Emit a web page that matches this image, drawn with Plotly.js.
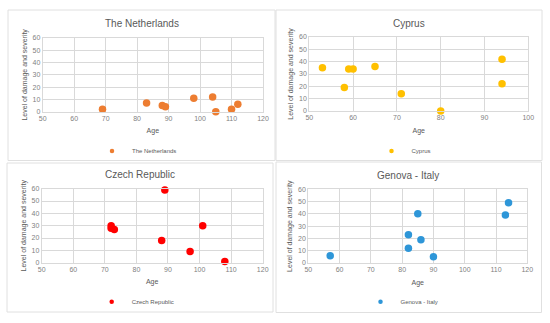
<!DOCTYPE html>
<html>
<head>
<meta charset="utf-8">
<script src="https://cdn.plot.ly/plotly-3.0.1.min.js"></script>
<style>html,body{margin:0;padding:0;background:#fff;}#chart{width:550px;height:323px;}</style>
</head>
<body>
<div id="chart"></div>
<script>
// Data
const nlAge = [69, 83, 88, 89, 98, 104, 105, 110, 112];
const nlDamage = [2, 7, 5, 4, 11, 12, 0, 2, 6];

const cyAge = [53, 58, 59, 60, 65, 71, 80, 94, 94];
const cyDamage = [35, 19, 34, 34, 36, 14, 0, 42, 22];

const czAge = [72, 72, 73, 89, 88, 97, 101, 108];
const czDamage = [30, 28, 27, 59, 18, 9, 30, 1];

const geAge = [57, 82, 82, 85, 86, 90, 113, 114];
const geDamage = [6, 23, 12, 40, 19, 5, 39, 49];

const panelTitles = ["The Netherlands", "Cyprus", "Czech Republic", "Genova - Italy"];
const xTitle = "Age";
const yTitle = "Level of damage and severity";

const W = 550, H = 323;
const FONT = "Liberation Sans, Arial, sans-serif";
const gridC = "#d9d9d9";
const tickC = "#7f7f7f";
const textC = "#595959";

function px(x) { return x / W; }
function py(y) { return 1 - y / H; }

const colors = ["#ED7D31", "#FFC000", "#FF0000", "#2E96D8"];
const ages = [nlAge, cyAge, czAge, geAge];
const damages = [nlDamage, cyDamage, czDamage, geDamage];

// plot area pixel boxes [x0, x1, yTop, yBottom]
const boxes = [
  [42.7, 263, 38, 111.7],
  [309.3, 528.3, 37, 111],
  [41.7, 262.7, 188.7, 262.7],
  [308.3, 527.3, 189.3, 263]
];
const xRanges = [[50, 120], [50, 100], [50, 120], [50, 120]];
// panel frames [x0, x1, y0, y1]
const frames = [
  [8, 275, 10, 160.5],
  [276, 542, 10, 160.5],
  [7, 273, 163, 312],
  [276, 541.5, 162, 312.5]
];
const titlePos = [[141.5, 23], [409, 23], [140, 174], [408, 175]];
const legendPos = [[137, 151], [404, 151], [135.7, 301.7], [402, 301.7]];

const traces = [];
const layout = {
  width: W, height: H,
  margin: {l: 0, r: 0, t: 0, b: 0},
  paper_bgcolor: "#fff",
  plot_bgcolor: "#fff",
  font: {family: FONT, color: textC},
  showlegend: true,
  annotations: [],
  shapes: []
};

for (let i = 0; i < 4; i++) {
  const sfx = i === 0 ? "" : String(i + 1);
  const b = boxes[i];
  // data trace
  traces.push({
    type: "scatter", mode: "markers",
    x: ages[i], y: damages[i],
    name: panelTitles[i],
    xaxis: "x" + sfx, yaxis: "y" + sfx,
    legend: "legend" + sfx,
    legendgroup: "g" + i,
    showlegend: false,
    marker: {color: colors[i], size: 7.5},
    cliponaxis: false
  });
  // legend entry (small marker as in the reference)
  traces.push({
    type: "scatter", mode: "markers",
    x: [null], y: [null],
    name: panelTitles[i],
    xaxis: "x" + sfx, yaxis: "y" + sfx,
    legend: "legend" + sfx,
    legendgroup: "g" + i,
    showlegend: true,
    marker: {color: colors[i], size: 4.5},
    hoverinfo: "skip"
  });
  layout["xaxis" + sfx] = {
    domain: [px(b[0]), px(b[1])],
    anchor: "y" + sfx,
    range: xRanges[i],
    dtick: 10, tick0: 0,
    showgrid: true, gridcolor: gridC, gridwidth: 1,
    showline: true, linecolor: gridC, mirror: true,
    zeroline: false, ticks: "",
    tickfont: {size: 7, color: tickC, family: FONT},
    title: {text: xTitle, font: {size: 7, color: textC, family: FONT}, standoff: 7},
    automargin: false, fixedrange: true
  };
  layout["yaxis" + sfx] = {
    domain: [py(b[3]), py(b[2])],
    anchor: "x" + sfx,
    range: [0, 60],
    dtick: 10,
    showgrid: true, gridcolor: gridC, gridwidth: 1,
    showline: true, linecolor: gridC, mirror: true,
    zeroline: false, ticks: "",
    tickfont: {size: 7, color: tickC, family: FONT},
    title: {text: yTitle, font: {size: 7, color: textC, family: FONT}, standoff: 4},
    automargin: false, fixedrange: true
  };
  layout["legend" + sfx] = {
    x: px(legendPos[i][0]), y: py(legendPos[i][1]),
    xanchor: "center", yanchor: "middle",
    orientation: "h",
    font: {size: 6, color: textC, family: FONT},
    bgcolor: "rgba(0,0,0,0)",
    itemwidth: 30
  };
  layout.annotations.push({
    text: panelTitles[i],
    xref: "paper", yref: "paper",
    x: px(titlePos[i][0]), y: py(titlePos[i][1]),
    xanchor: "center", yanchor: "middle",
    showarrow: false,
    font: {size: 10, color: textC, family: FONT}
  });
  const f = frames[i];
  layout.shapes.push({
    type: "rect", xref: "paper", yref: "paper",
    x0: px(f[0]), x1: px(f[1]), y0: py(f[3]), y1: py(f[2]),
    line: {color: "#e0e0e0", width: 1},
    fillcolor: "rgba(0,0,0,0)",
    layer: "below"
  });
}

Plotly.newPlot("chart", traces, layout, {displayModeBar: false, staticPlot: true});
</script>
</body>
</html>
